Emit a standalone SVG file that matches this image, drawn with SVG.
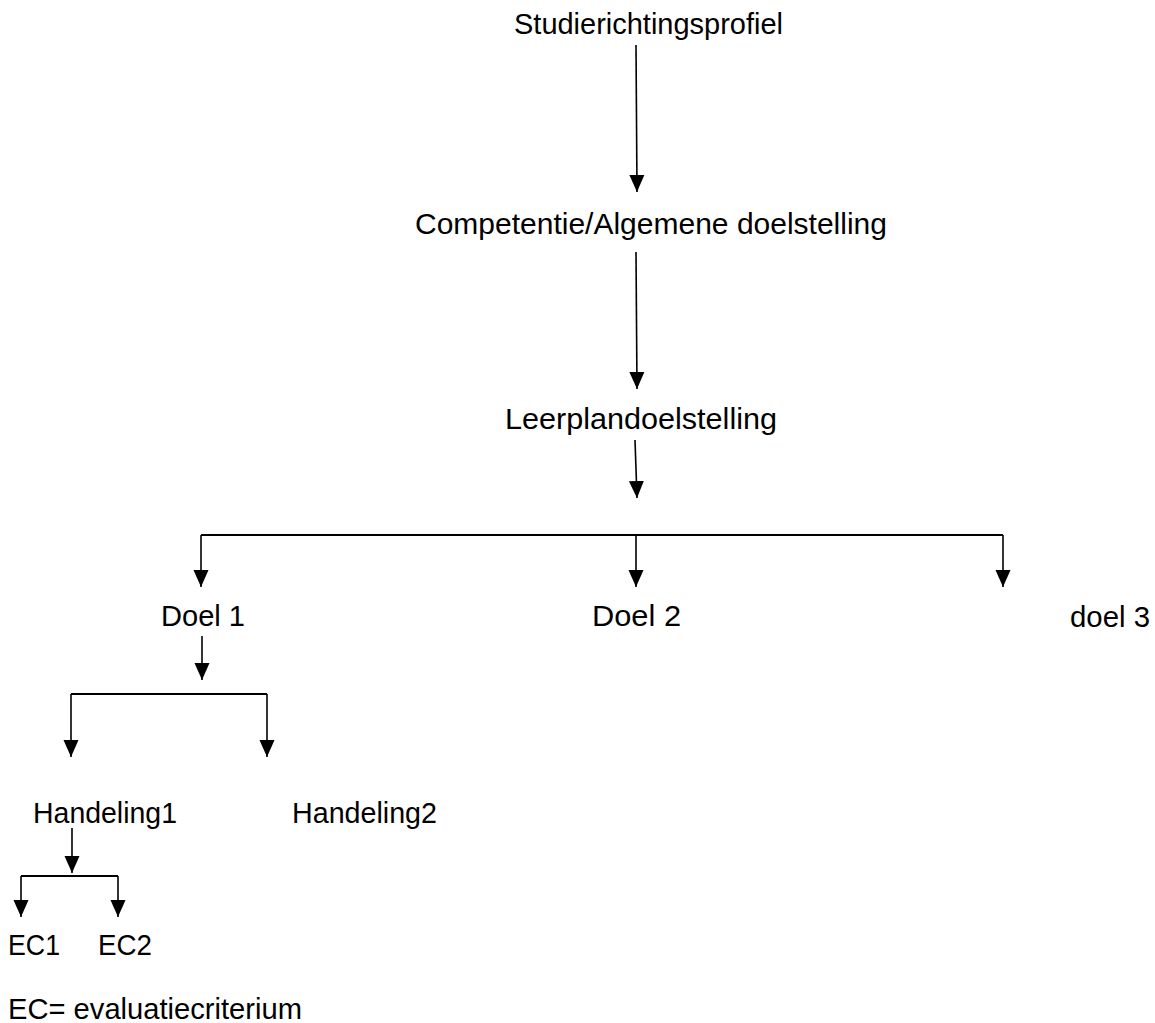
<svg xmlns="http://www.w3.org/2000/svg" width="1155" height="1023" viewBox="0 0 1155 1023">
<style>
text{font-family:"Liberation Sans",Arial,sans-serif;font-size:29px;fill:#000}
.c{fill:none;stroke:#000;stroke-width:1.6}
.h{fill:none;stroke:#000;stroke-width:2.2}
</style>
<defs>
<marker id="ah" viewBox="0 -8 17 16" refX="17" refY="0" markerWidth="17" markerHeight="16" markerUnits="userSpaceOnUse" orient="auto">
<path d="M0,-7.5 L17,0 L0,7.5 z" fill="#000"/>
</marker>
</defs>
<g id="connectors">
<path class="c" d="M636,45 L637,192" marker-end="url(#ah)"/>
<path class="c" d="M636,252 L637,389" marker-end="url(#ah)"/>
<path class="c" d="M635,440 L637,498" marker-end="url(#ah)"/>
<path class="h" d="M201,535 L1003,535"/>
<path class="c" d="M201,535 L201,587" marker-end="url(#ah)"/>
<path class="c" d="M636,535 L636,587" marker-end="url(#ah)"/>
<path class="c" d="M1003,535 L1003,587" marker-end="url(#ah)"/>
<path class="c" d="M202,636 L202,680" marker-end="url(#ah)"/>
<path class="h" d="M71,694 L267,694"/>
<path class="c" d="M71,694 L71,757" marker-end="url(#ah)"/>
<path class="c" d="M267,694 L267,757" marker-end="url(#ah)"/>
<path class="c" d="M72,828 L72,873" marker-end="url(#ah)"/>
<path class="h" d="M21,876 L118,876"/>
<path class="c" d="M21,876 L21,917" marker-end="url(#ah)"/>
<path class="c" d="M118,876 L118,917" marker-end="url(#ah)"/>
</g>
<g id="studierichtingsprofiel"><text x="514" y="34" textLength="269" lengthAdjust="spacingAndGlyphs">Studierichtingsprofiel</text></g>
<g id="competentie"><text x="415" y="234" textLength="472" lengthAdjust="spacingAndGlyphs">Competentie/Algemene doelstelling</text></g>
<g id="leerplandoelstelling"><text x="505" y="429" textLength="272" lengthAdjust="spacingAndGlyphs">Leerplandoelstelling</text></g>
<g id="doel1"><text x="161" y="626" textLength="84" lengthAdjust="spacingAndGlyphs">Doel 1</text></g>
<g id="doel2"><text x="592" y="626" textLength="89" lengthAdjust="spacingAndGlyphs">Doel 2</text></g>
<g id="doel3"><text x="1070" y="627" textLength="80" lengthAdjust="spacingAndGlyphs">doel 3</text></g>
<g id="handeling1"><text x="33" y="823" textLength="144" lengthAdjust="spacingAndGlyphs">Handeling1</text></g>
<g id="handeling2"><text x="292" y="823" textLength="145" lengthAdjust="spacingAndGlyphs">Handeling2</text></g>
<g id="ec1"><text x="8" y="955" textLength="52" lengthAdjust="spacingAndGlyphs">EC1</text></g>
<g id="ec2"><text x="98" y="955" textLength="54" lengthAdjust="spacingAndGlyphs">EC2</text></g>
<g id="legend"><text x="8" y="1019" textLength="294" lengthAdjust="spacingAndGlyphs">EC= evaluatiecriterium</text></g>
</svg>
